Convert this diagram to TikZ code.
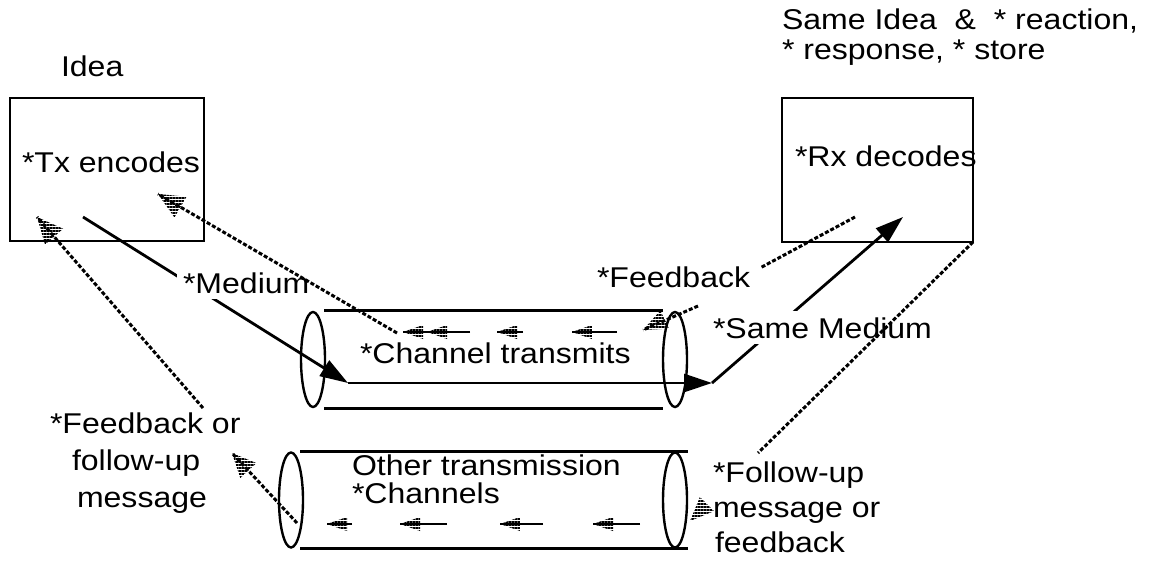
\documentclass[tikz,border=0pt]{standalone}
\usepackage{fontspec}
\setmainfont{Liberation Sans}[FakeStretch=1.12]
\usetikzlibrary{arrows.meta,shapes.geometric,patterns.meta,calc,fit}

% hatched arrowhead: tip, point behind it, length, half width
\newcommand\hatchhead[4]{%
  \fill[hatch] (#1) -- ($(#1)!#3!(#2)!#4!90:(#1)$) -- ($(#1)!#3!(#2)!#4!-90:(#1)$) -- cycle;}

\begin{document}
\begin{tikzpicture}[x=0.5pt,y=-0.5pt,
  every node/.style={font=\fontsize{14.3}{17}\selectfont, inner sep=0pt},
  lbl/.style={anchor=text},
  cut/.style={fill=white, inner sep=3pt},
  box/.style={draw, line width=1.4pt, inner sep=0pt},
  pipeend/.style={draw, ellipse, line width=1.2pt, minimum width=12pt, minimum height=47.5pt, inner sep=0pt},
  pipe/.style={line width=1.4pt},
  flow/.style={line width=1.4pt, -{Triangle[length=14pt,width=9pt]}},
  back/.style={line width=1.5pt, dash pattern=on 2pt off 1pt},
  stem/.style={line width=0.9pt},
  hatch/.style={pattern={Lines[angle=0,distance=1.5pt,line width=0.8pt]}},
]
\useasboundingbox (0,0) rectangle (1154,561);

% sender and receiver
\node[box, fit={(10,98) (204,241)}] (tx) {};
\node[box, fit={(782,98) (973,242)}] (rx) {};

% the two channels drawn as pipes
\node[pipeend] (tl) at (313,359.5) {};
\node[pipeend] (tr) at (675,359.5) {};
\draw[pipe] ([xshift=5.5pt]tl.north) -- ([xshift=-6pt]tr.north);
\draw[pipe] ([xshift=5.5pt]tl.south) -- ([xshift=-6pt]tr.south);
\node[pipeend] (bl) at (291,500) {};
\node[pipeend] (br) at (675,500) {};
\draw[pipe] ([xshift=4.5pt]bl.north) -- ([xshift=6.5pt]br.north);
\draw[pipe] ([xshift=4.5pt]bl.south) -- ([xshift=6.5pt]br.south);

% message flow through the medium
\coordinate (m0) at (83,217);
\coordinate (m1) at (348,383);
\coordinate (m2) at (712,383);
\coordinate (m3) at (903,217);
\draw[flow] (m0) -- (m1);
\draw[flow] (m1) -- (m2);
\draw[flow] (m2) -- (m3);

% texts
\node[lbl] (idea) at (61,77) {Idea};
\node[lbl] (same1) at (782,30) {Same Idea\ \ \&\ \ * reaction,};
\node[lbl] (same2) at (782,60) {* response, * store};
\node[lbl] (txt) at (22,173) {*Tx encodes};
\node[lbl] (rxt) at (795,167) {*Rx decodes};
\node[lbl,cut] (med) at (183,293) {*Medium};
\node[lbl] (fbk) at (597,287) {*Feedback};
\node[lbl] (chan) at (360,363) {*Channel transmits};
\node[lbl,cut] (smed) at (713,338) {*Same Medium};
\node[lbl] (oth1) at (352,475) {Other transmission};
\node[lbl] (oth2) at (352,503) {*Channels};
\node[lbl] (fo1) at (50,433) {*Feedback or};
\node[lbl] (fo2) at (72,470) {follow-up};
\node[lbl] (fo3) at (77,507) {message};
\node[lbl] (fu1) at (713,482) {*Follow-up};
\node[lbl] (fu2) at (713,517) {message or};
\node[lbl] (fu3) at (715,552) {feedback};

% feedback through the same channel
\coordinate (f0) at (855,217);
\coordinate (f1) at (760,268);
\coordinate (f2) at (698,306);
\coordinate (f3) at (668,318);
\coordinate (f4) at (643,330);
\draw[back] (f0) -- (f1);
\draw[back] (f2) -- (f4);
\hatchhead{f4}{f3}{12pt}{5pt}
\foreach \t/\s [count=\i] in {403/428,427/470,497/523,572/617} {
  \coordinate (ct\i) at (\t,332);
  \coordinate (cs\i) at (\s,332);
  \draw[stem] (cs\i) -- (ct\i);
  \hatchhead{ct\i}{cs\i}{10pt}{3.5pt}
}
\coordinate (f5) at (397,333);
\coordinate (f6) at (158,194);
\draw[back] (f5) -- (f6);
\hatchhead{f6}{f5}{13pt}{6pt}

% follow-up through the other channels
\coordinate (u0) at (973,242);
\coordinate (u1) at (758,453);
\coordinate (u2) at (712,499);
\coordinate (u3) at (690,521);
\draw[back] (u0) -- (u1);
\hatchhead{u3}{u2}{12pt}{5pt}
\foreach \t/\s [count=\i] in {327/352,400/447,500/543,593/640} {
  \coordinate (bt\i) at (\t,524);
  \coordinate (bs\i) at (\s,524);
  \draw[stem] (bs\i) -- (bt\i);
  \hatchhead{bt\i}{bs\i}{10pt}{3.5pt}
}
\coordinate (u4) at (297,523);
\coordinate (u5) at (232,453);
\coordinate (u6) at (203,408);
\coordinate (u7) at (37,217);
\draw[back] (u4) -- (u5);
\hatchhead{u5}{u4}{12pt}{5.5pt}
\draw[back] (u6) -- (u7);
\hatchhead{u7}{u6}{13pt}{6pt}
\end{tikzpicture}
\end{document}
